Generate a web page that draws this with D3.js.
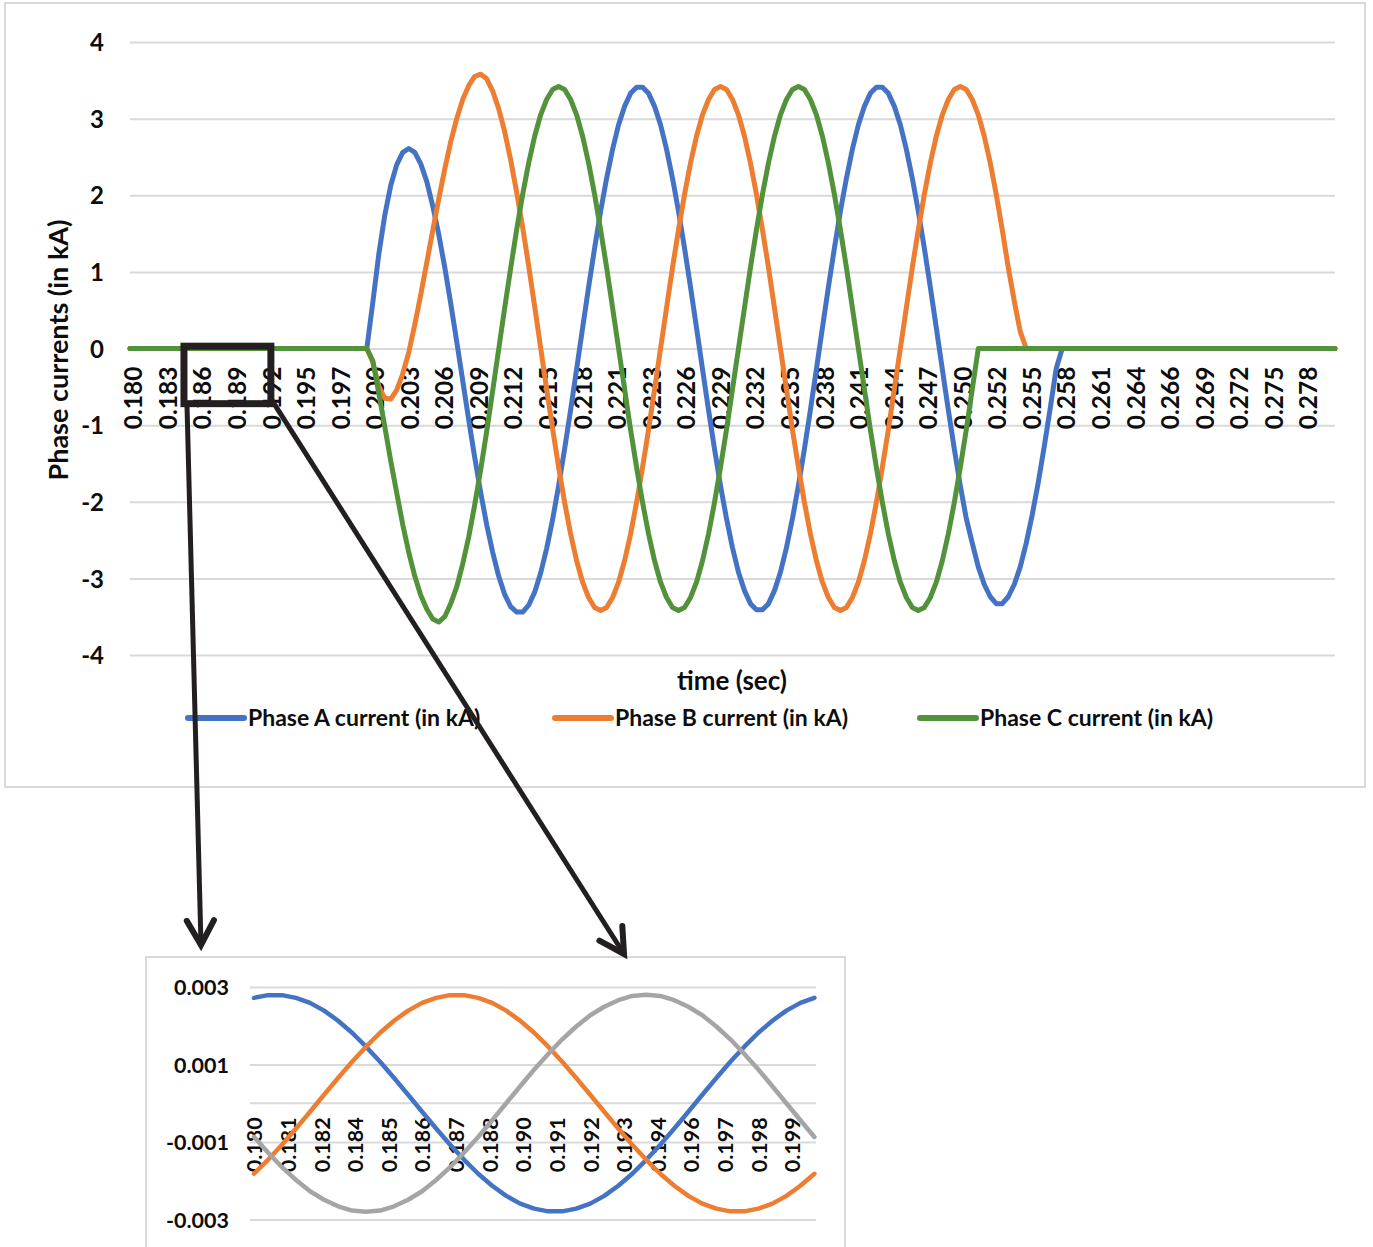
<!DOCTYPE html>
<html><head><meta charset="utf-8">
<script src="https://cdn.jsdelivr.net/npm/d3@7"></script>
<style>
body{margin:0;background:#fff}
svg text{font-family:Lato,'Open Sans',sans-serif;font-weight:700;fill:#0d0d0d}
</style>
</head><body>
<svg id="c" width="1373" height="1247"></svg>
<script>
// ---------- main chart data (time in ms, currents in kA) ----------
const timeMs = [179.75,
199.5,200,200.5,201,201.5,202,202.5,203,203.5,204,204.5,205,205.5,206,206.5,207,207.5,208,208.5,209,
209.5,210,210.5,211,211.5,212,212.5,213,213.5,214,214.5,215,215.5,216,216.5,217,217.5,218,218.5,219,
219.5,220,220.5,221,221.5,222,222.5,223,223.5,224,224.5,225,225.5,226,226.5,227,227.5,228,228.5,229,
229.5,230,230.5,231,231.5,232,232.5,233,233.5,234,234.5,235,235.5,236,236.5,237,237.5,238,238.5,239,
239.5,240,240.5,241,241.5,242,242.5,243,243.5,244,244.5,245,245.5,246,246.5,247,247.5,248,248.5,249,
249.5,250,250.5,251,251.5,252,252.5,253,253.5,254,254.5,255,255.5,256,256.5,257,257.5,258,
280.25];
const phaseA = [0,
0,0.60,1.23,1.74,2.13,2.40,2.56,2.61,2.56,2.41,
2.18,1.86,1.49,1.06,0.59,0.09,-0.42,-0.93,-1.42,-1.88,
-2.30,-2.66,-2.97,-3.21,-3.37,-3.44,-3.44,-3.35,-3.18,-2.93,
-2.61,-2.23,-1.79,-1.31,-0.80,-0.27,0.27,0.80,1.31,1.79,
2.22,2.60,2.92,3.16,3.33,3.41,3.41,3.33,3.16,2.92,
2.60,2.22,1.79,1.31,0.80,0.27,-0.27,-0.80,-1.31,-1.79,
-2.22,-2.60,-2.92,-3.16,-3.33,-3.41,-3.41,-3.33,-3.16,-2.92,
-2.60,-2.22,-1.79,-1.31,-0.80,-0.27,0.27,0.80,1.31,1.79,
2.22,2.60,2.92,3.16,3.33,3.41,3.41,3.33,3.16,2.92,
2.60,2.22,1.79,1.31,0.80,0.27,-0.27,-0.80,-1.31,-1.79,
-2.22,-2.54,-2.85,-3.08,-3.24,-3.33,-3.33,-3.24,-3.08,-2.85,
-2.54,-2.17,-1.75,-1.28,-0.78,-0.26,0,0,
0];
const phaseB = [0,
0,-0.18,-0.49,-0.65,-0.66,-0.54,-0.33,-0.05,0.31,0.70,
1.12,1.54,1.95,2.34,2.70,3.00,3.25,3.43,3.55,3.58,
3.52,3.36,3.13,2.83,2.46,2.04,1.58,1.08,0.55,0.01,
-0.53,-1.05,-1.55,-2.01,-2.42,-2.77,-3.05,-3.25,-3.38,-3.42,
-3.38,-3.25,-3.05,-2.77,-2.42,-2.01,-1.55,-1.06,-0.53,0,
0.53,1.06,1.55,2.01,2.42,2.77,3.05,3.25,3.38,3.42,
3.38,3.25,3.05,2.77,2.42,2.01,1.55,1.06,0.53,0,
-0.53,-1.06,-1.55,-2.01,-2.42,-2.77,-3.05,-3.25,-3.38,-3.42,
-3.38,-3.25,-3.05,-2.77,-2.42,-2.01,-1.55,-1.06,-0.53,0,
0.53,1.06,1.55,2.01,2.42,2.77,3.05,3.25,3.38,3.42,
3.38,3.25,3.05,2.77,2.42,2.01,1.55,1.06,0.62,0.22,
0,0,0,0,0,0,0,0,
0];
const phaseC = [0,
0,-0.16,-0.58,-1.02,-1.47,-1.89,-2.30,-2.66,-2.97,-3.22,
-3.40,-3.53,-3.57,-3.50,-3.33,-3.11,-2.81,-2.46,-2.04,-1.58,
-1.08,-0.55,-0.01,0.53,1.05,1.55,2.01,2.42,2.77,3.05,
3.25,3.38,3.42,3.38,3.25,3.05,2.77,2.42,2.01,1.55,
1.06,0.53,0,-0.53,-1.06,-1.55,-2.01,-2.42,-2.77,-3.05,
-3.25,-3.38,-3.42,-3.38,-3.25,-3.05,-2.77,-2.42,-2.01,-1.55,
-1.06,-0.53,0,0.53,1.06,1.55,2.01,2.42,2.77,3.05,
3.25,3.38,3.42,3.38,3.25,3.05,2.77,2.42,2.01,1.55,
1.06,0.53,0,-0.53,-1.06,-1.55,-2.01,-2.42,-2.77,-3.05,
-3.25,-3.38,-3.42,-3.38,-3.25,-3.05,-2.77,-2.42,-2.01,-1.55,
-1.06,-0.53,0,0,0,0,0,0,0,0,
0,0,0,0,0,0,0,0,
0];
const mainTickLabels = ["0.180","0.183","0.186","0.189","0.192","0.195","0.197","0.200","0.203","0.206",
"0.209","0.212","0.215","0.218","0.221","0.223","0.226","0.229","0.232","0.235","0.238","0.241","0.244",
"0.247","0.250","0.252","0.255","0.258","0.261","0.264","0.266","0.269","0.272","0.275","0.278"];
const yTicks = [4,3,2,1,0,-1,-2,-3,-4];
const yTickLabels = ["4","3","2","1","0","-1","-2","-3","-4"];
const seriesNames = ["Phase A current (in kA)","Phase B current (in kA)","Phase C current (in kA)"];
const seriesColors = ["#4472C4","#ED7D31","#52923A"];

// ---------- inset (pre-fault zoom) data ----------
const insetTimeMs = [180,180.5,181,181.5,182,182.5,183,183.5,184,184.5,185,185.5,186,186.5,187,187.5,
188,188.5,189,189.5,190,190.5,191,191.5,192,192.5,193,193.5,194,194.5,195,195.5,196,196.5,197,197.5,
198,198.5,199,199.5,200];
const insetA = [0.00272,0.00279,0.00279,0.00272,0.00259,0.00239,0.00213,0.00182,0.00146,0.00107,0.00065,
0.00022,-0.00022,-0.00065,-0.00107,-0.00146,-0.00182,-0.00213,-0.00239,-0.00259,-0.00272,-0.00279,-0.00279,
-0.00272,-0.00259,-0.00239,-0.00213,-0.00182,-0.00146,-0.00107,-0.00065,-0.00022,0.00022,0.00065,0.00107,
0.00146,0.00182,0.00213,0.00239,0.00259,0.00272];
const insetB = [-0.00182,-0.00146,-0.00107,-0.00065,-0.00022,0.00022,0.00065,0.00107,0.00146,0.00182,
0.00213,0.00239,0.00259,0.00272,0.00279,0.00279,0.00272,0.00259,0.00239,0.00213,0.00182,0.00146,0.00107,
0.00065,0.00022,-0.00022,-0.00065,-0.00107,-0.00146,-0.00182,-0.00213,-0.00239,-0.00259,-0.00272,-0.00279,
-0.00279,-0.00272,-0.00259,-0.00239,-0.00213,-0.00182];
const insetC = [-0.00087,-0.00127,-0.00165,-0.00198,-0.00227,-0.00249,-0.00266,-0.00277,-0.00280,-0.00277,
-0.00266,-0.00249,-0.00227,-0.00198,-0.00165,-0.00127,-0.00087,-0.00044,0,0.00044,0.00087,0.00127,0.00165,
0.00198,0.00227,0.00249,0.00266,0.00277,0.00280,0.00277,0.00266,0.00249,0.00227,0.00198,0.00165,0.00127,
0.00087,0.00044,0,-0.00044,-0.00087];
const insetTickLabels = ["0.180","0.181","0.182","0.184","0.185","0.186","0.187","0.188","0.190","0.191",
"0.192","0.193","0.194","0.196","0.197","0.198","0.199"];
const insetYTicks = [0.003,0.001,-0.001,-0.003];
const insetYTickLabels = ["0.003","0.001","-0.001","-0.003"];
const insetColors = ["#4472C4","#ED7D31","#A5A5A5"];

const svg = d3.select('#c');
const GRID = '#d9d9d9';

// ================= MAIN CHART =================
svg.append('rect').attr('x',5).attr('y',3).attr('width',1360).attr('height',784)
  .attr('fill','#fff').attr('stroke',GRID).attr('stroke-width',2);

const plotL = 130, plotR = 1335;
const x = d3.scaleLinear().domain([0.180,0.278]).range([133,1308]);
const y = d3.scaleLinear().domain([-4,4]).range([655,42]);

const gy = svg.append('g').attr('transform',`translate(${plotL},0)`)
  .call(d3.axisLeft(y).tickValues(yTicks).tickSize(-(plotR-plotL)).tickFormat((d,i)=>yTickLabels[i]));
gy.attr('font-family',null).attr('font-size',null);
gy.select('.domain').remove();
gy.selectAll('.tick line').attr('stroke',GRID).attr('stroke-width',2);
gy.selectAll('.tick text').attr('x',104-plotL).attr('dy','0.36em').attr('font-size',24);

const xCat = d3.scalePoint().domain(mainTickLabels).range([x(0.180),x(0.278)]);
const gx = svg.append('g').attr('transform',`translate(0,${y(0)})`)
  .call(d3.axisBottom(xCat).tickSize(0));
gx.attr('font-family',null).attr('font-size',null);
gx.select('.domain').remove();
gx.selectAll('.tick text').attr('transform','rotate(-90)').attr('text-anchor','end')
  .attr('x',-18).attr('y',0).attr('dy','0.36em').attr('font-size',24.5);

const mainSeries = [phaseA, phaseB, phaseC];
const line = d3.line().x((d,i)=>x(timeMs[i]/1000)).y(d=>y(d));
mainSeries.forEach((s,k)=>{
  svg.append('path').datum(s).attr('d',line).attr('fill','none')
    .attr('stroke',seriesColors[k]).attr('stroke-width',5)
    .attr('stroke-linejoin','round').attr('stroke-linecap','round');
});

svg.append('text').attr('transform','translate(59,350) rotate(-90)')
  .attr('text-anchor','middle').attr('dy','0.35em').attr('font-size',27).text('Phase currents (in kA)');
svg.append('text').attr('x',732).attr('y',690).attr('text-anchor','middle')
  .attr('font-size',26).text('time (sec)');

// legend
const legendX = [188, 555, 920];
seriesNames.forEach((n,k)=>{
  const g = svg.append('g').attr('transform',`translate(${legendX[k]},718)`);
  g.append('line').attr('x1',0).attr('x2',56).attr('y1',0).attr('y2',0)
    .attr('stroke',seriesColors[k]).attr('stroke-width',6).attr('stroke-linecap','round');
  g.append('text').attr('x',60).attr('dy','0.36em').attr('font-size',23).text(n);
});

// ================= INSET =================
svg.append('rect').attr('x',146).attr('y',957).attr('width',699).attr('height',300)
  .attr('fill','#fff').attr('stroke',GRID).attr('stroke-width',2);
const iL = 250, iR = 816;
const xi = d3.scaleLinear().domain([180,199.2]).range([254,792]);
const yi = d3.scaleLinear().domain([-0.003,0.003]).range([1219.5,987]);

const giy = svg.append('g').attr('transform',`translate(${iL},0)`)
  .call(d3.axisLeft(yi).tickValues(insetYTicks).tickSize(-(iR-iL)).tickFormat((d,i)=>insetYTickLabels[i]));
giy.attr('font-family',null).attr('font-size',null);
giy.select('.domain').remove();
giy.selectAll('.tick line').attr('stroke',GRID).attr('stroke-width',2);
giy.selectAll('.tick text').attr('x',229-iL).attr('dy','0.36em').attr('font-size',21.5);

const xiCat = d3.scalePoint().domain(insetTickLabels).range([xi(180),xi(199.2)]);
const gix = svg.append('g').attr('transform',`translate(0,${yi(0)})`)
  .call(d3.axisBottom(xiCat).tickSize(0));
gix.attr('font-family',null).attr('font-size',null);
gix.select('.domain').attr('d',`M${iL},0H${iR}`).attr('stroke',GRID).attr('stroke-width',2);
gix.selectAll('.tick text').attr('transform','rotate(-90)').attr('text-anchor','end')
  .attr('x',-14).attr('y',0).attr('dy','0.36em').attr('font-size',21.5);

const insetSeries = [insetA, insetB, insetC];
const iline = d3.line().x((d,i)=>xi(insetTimeMs[i])).y(d=>yi(d));
insetSeries.forEach((s,k)=>{
  svg.append('path').datum(s).attr('d',iline).attr('fill','none')
    .attr('stroke',insetColors[k]).attr('stroke-width',4.5)
    .attr('stroke-linejoin','round').attr('stroke-linecap','round');
});

// ================= ZOOM ANNOTATION =================
const INK = '#231f20';
const bx0 = x(0.18425), bx1 = x(0.1915), by0 = y(0.03), by1 = y(-0.72);
svg.append('rect').attr('x',bx0).attr('y',by0).attr('width',bx1-bx0).attr('height',by1-by0)
  .attr('fill','none').attr('stroke',INK).attr('stroke-width',7);

function arrow(x0,y0,x1,y1){
  svg.append('line').attr('x1',x0).attr('y1',y0).attr('x2',x1).attr('y2',y1)
    .attr('stroke',INK).attr('stroke-width',5);
  const a = Math.atan2(y1-y0,x1-x0), L = 28, w = 29*Math.PI/180;
  const p1 = [x1-L*Math.cos(a-w), y1-L*Math.sin(a-w)];
  const p2 = [x1-L*Math.cos(a+w), y1-L*Math.sin(a+w)];
  svg.append('path').attr('d',`M${p1}L${x1},${y1}L${p2}`).attr('fill','none')
    .attr('stroke',INK).attr('stroke-width',6).attr('stroke-linejoin','miter').attr('stroke-linecap','round');
}
arrow(bx0+3, by1, 201, 945);
arrow(bx1, by1-5, 624, 954);
</script>
</body></html>
